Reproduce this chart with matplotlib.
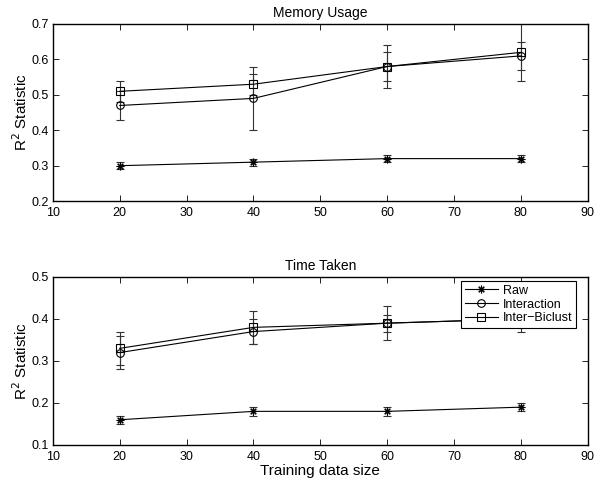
import numpy as np
import matplotlib.pyplot as plt

plt.rcParams['font.family'] = ['Liberation Sans', 'DejaVu Sans']
plt.rcParams['font.size'] = 9

sizes = [20, 40, 60, 80]
labels = ['Raw', 'Interaction', 'Inter\u2212Biclust']
markers = [(8, 2, 0), 'o', 's']

# memory usage: mean, lower err, upper err
mem_raw = [0.30, 0.31, 0.32, 0.32]
mem_raw_lo = [0.01, 0.01, 0.01, 0.01]
mem_raw_hi = [0.01, 0.01, 0.01, 0.01]
mem_int = [0.47, 0.49, 0.58, 0.61]
mem_int_lo = [0.04, 0.09, 0.06, 0.07]
mem_int_hi = [0.04, 0.09, 0.06, 0.10]
mem_bic = [0.51, 0.53, 0.58, 0.62]
mem_bic_lo = [0.03, 0.03, 0.04, 0.05]
mem_bic_hi = [0.03, 0.03, 0.04, 0.03]

# time taken
time_raw = [0.16, 0.18, 0.18, 0.19]
time_raw_lo = [0.01, 0.01, 0.01, 0.01]
time_raw_hi = [0.01, 0.01, 0.01, 0.01]
time_int = [0.32, 0.37, 0.39, 0.40]
time_int_lo = [0.04, 0.03, 0.04, 0.03]
time_int_hi = [0.04, 0.03, 0.04, 0.03]
time_bic = [0.33, 0.38, 0.39, 0.40]
time_bic_lo = [0.04, 0.04, 0.02, 0.02]
time_bic_hi = [0.04, 0.04, 0.02, 0.02]

fig = plt.figure(figsize=(6.01, 4.8), dpi=100)
ax1 = fig.add_axes([0.088, 0.581, 0.890, 0.369])
ax2 = fig.add_axes([0.088, 0.073, 0.890, 0.350])


def draw(ax, series, ylim, yticks, title):
    for (y, lo, hi), lab, m in zip(series, labels, markers):
        ax.errorbar(sizes, y, yerr=[lo, hi], color='black', ecolor='#333333',
                    elinewidth=0.8, capsize=2.8, capthick=0.8, lw=0.8,
                    marker=m, ms=5.5, mfc='none', mec='black',
                    mew=0.8, label=lab)
    ax.set_xlim(10, 90)
    ax.set_ylim(*ylim)
    ax.set_xticks(range(10, 91, 10))
    ax.set_yticks(yticks)
    ax.set_yticklabels([f'{v:.1f}' for v in yticks])
    ax.set_ylabel('R$^2$ Statistic', fontsize=11, labelpad=1)
    ax.set_title(title, fontsize=10, pad=5)
    ax.tick_params(direction='in', top=True, right=True, length=4, width=0.6,
                   labelsize=9)
    ax.tick_params(axis='x', pad=4)
    ax.tick_params(axis='y', pad=3)
    for s in ax.spines.values():
        s.set_linewidth(1.0)


draw(ax1, [(mem_raw, mem_raw_lo, mem_raw_hi), (mem_int, mem_int_lo, mem_int_hi),
           (mem_bic, mem_bic_lo, mem_bic_hi)],
     (0.2, 0.7), np.arange(0.2, 0.71, 0.1), 'Memory Usage')
draw(ax2, [(time_raw, time_raw_lo, time_raw_hi), (time_int, time_int_lo, time_int_hi),
           (time_bic, time_bic_lo, time_bic_hi)],
     (0.1, 0.5), np.arange(0.1, 0.51, 0.1), 'Time Taken')
ax2.set_xlabel('Training data size', fontsize=11, labelpad=1)

handles, labs = ax2.get_legend_handles_labels()
handles = [h[0] for h in handles]
leg = ax2.legend(handles, labs, loc='upper right', bbox_to_anchor=(0.978, 0.976),
                 fontsize=9, frameon=True, fancybox=False, framealpha=1,
                 edgecolor='black', borderaxespad=0, handlelength=2.6,
                 handletextpad=0.4, labelspacing=0.15, borderpad=0.3)
leg.get_frame().set_linewidth(0.8)

fig.savefig('out.png', dpi=100)
